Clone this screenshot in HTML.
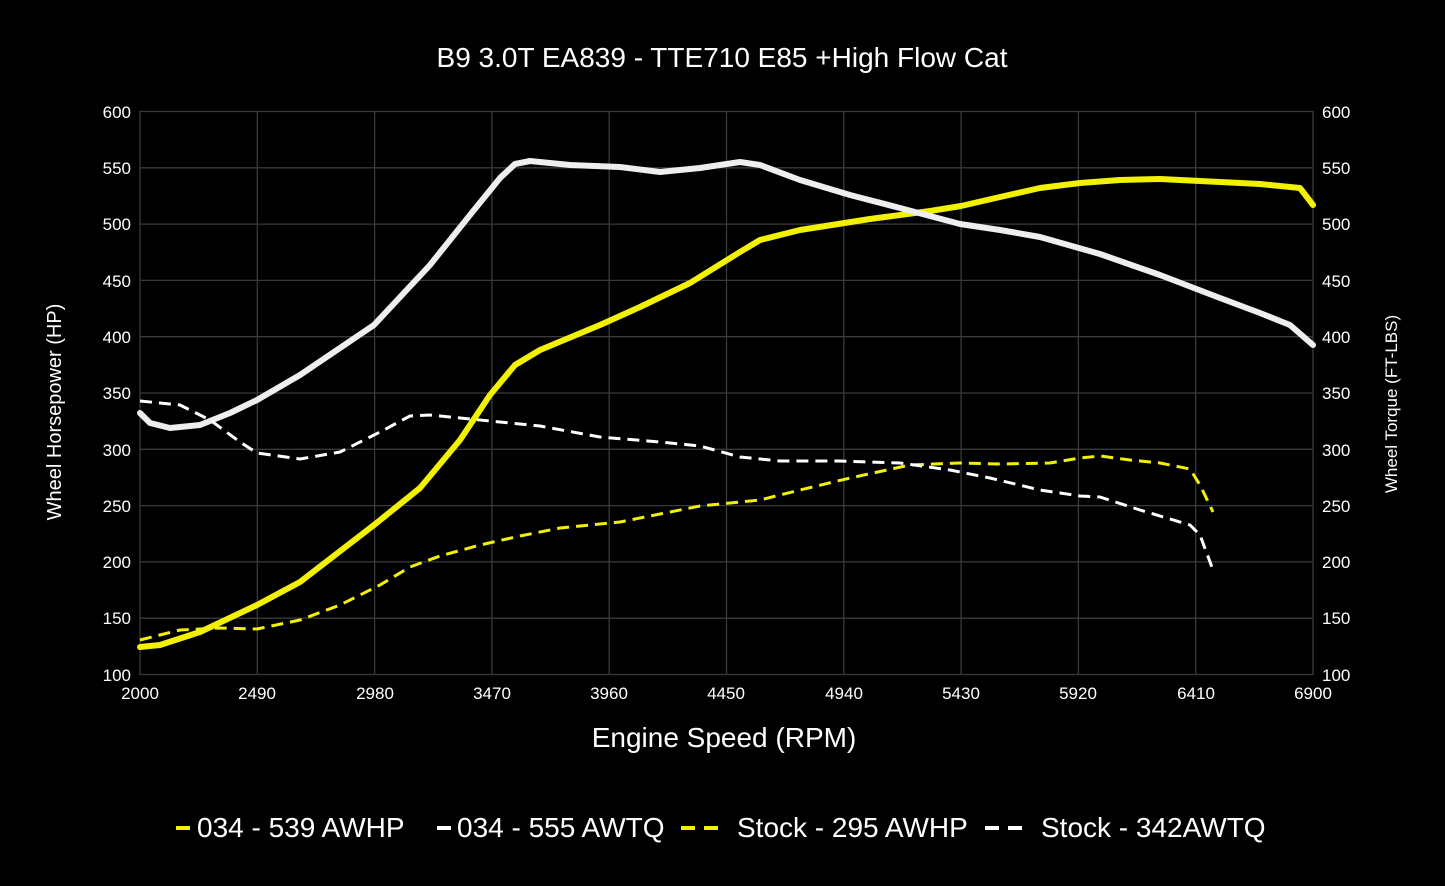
<!DOCTYPE html>
<html><head><style>
html,body{margin:0;padding:0;background:#000;}
svg{display:block;font-family:"Liberation Sans",Arial,sans-serif;}
</style></head><body>
<svg width="1445" height="886" viewBox="0 0 1445 886">
<rect width="1445" height="886" fill="#000"/>
<text x="722" y="67" fill="#fff" font-size="28" text-anchor="middle">B9 3.0T EA839 - TTE710 E85 +High Flow Cat</text>
<g stroke="#3a3a3a" stroke-width="1.3">
<line x1="140" y1="111.5" x2="1313" y2="111.5"/><line x1="140" y1="167.8" x2="1313" y2="167.8"/><line x1="140" y1="224.1" x2="1313" y2="224.1"/><line x1="140" y1="280.4" x2="1313" y2="280.4"/><line x1="140" y1="336.7" x2="1313" y2="336.7"/><line x1="140" y1="393" x2="1313" y2="393"/><line x1="140" y1="449.3" x2="1313" y2="449.3"/><line x1="140" y1="505.6" x2="1313" y2="505.6"/><line x1="140" y1="561.9" x2="1313" y2="561.9"/><line x1="140" y1="618.2" x2="1313" y2="618.2"/><line x1="140" y1="674.5" x2="1313" y2="674.5"/>
<line x1="140" y1="111" x2="140" y2="675"/><line x1="257.3" y1="111" x2="257.3" y2="675"/><line x1="374.6" y1="111" x2="374.6" y2="675"/><line x1="491.9" y1="111" x2="491.9" y2="675"/><line x1="609.2" y1="111" x2="609.2" y2="675"/><line x1="726.5" y1="111" x2="726.5" y2="675"/><line x1="843.8" y1="111" x2="843.8" y2="675"/><line x1="961.1" y1="111" x2="961.1" y2="675"/><line x1="1078.4" y1="111" x2="1078.4" y2="675"/><line x1="1195.7" y1="111" x2="1195.7" y2="675"/><line x1="1313" y1="111" x2="1313" y2="675"/>
</g>
<g fill="#fff" font-size="17" text-anchor="end">
<text x="131" y="118">600</text><text x="131" y="174">550</text><text x="131" y="230">500</text><text x="131" y="287">450</text><text x="131" y="343">400</text><text x="131" y="399">350</text><text x="131" y="456">300</text><text x="131" y="512">250</text><text x="131" y="568">200</text><text x="131" y="624">150</text><text x="131" y="681">100</text>
</g>
<g fill="#fff" font-size="17" text-anchor="start">
<text x="1322" y="118">600</text><text x="1322" y="174">550</text><text x="1322" y="230">500</text><text x="1322" y="287">450</text><text x="1322" y="343">400</text><text x="1322" y="399">350</text><text x="1322" y="456">300</text><text x="1322" y="512">250</text><text x="1322" y="568">200</text><text x="1322" y="624">150</text><text x="1322" y="681">100</text>
</g>
<g fill="#fff" font-size="17" text-anchor="middle">
<text x="140" y="699">2000</text><text x="257" y="699">2490</text><text x="375" y="699">2980</text><text x="492" y="699">3470</text><text x="609" y="699">3960</text><text x="726" y="699">4450</text><text x="844" y="699">4940</text><text x="961" y="699">5430</text><text x="1078" y="699">5920</text><text x="1196" y="699">6410</text><text x="1313" y="699">6900</text>
</g>
<text x="724" y="747" fill="#fff" font-size="28" text-anchor="middle">Engine Speed (RPM)</text>
<text transform="translate(61,412) rotate(-90)" fill="#fff" font-size="20" text-anchor="middle">Wheel Horsepower (HP)</text>
<text transform="translate(1397,404) rotate(-90)" fill="#fff" font-size="17" text-anchor="middle">Wheel Torque (FT-LBS)</text>
<g fill="none" stroke-linejoin="round" stroke-linecap="round">
<polyline stroke="#f2f200" stroke-width="6" points="140,647 160,645 200,632 257,605 300,582 374,525 420,488 460,440 490,395 515,365 540,350 600,325 640,307 690,283 740,252 760,240 800,230 870,219 930,211 961,206 1000,197 1040,188 1080,183 1120,180 1160,179 1200,181 1260,184 1300,188 1313,205"/>
<polyline stroke="#eeeeee" stroke-width="6" points="140,413 150,423 170,428 200,425 230,413 257,400 300,375 374,325 430,265 470,215 500,178 515,164 530,161 570,165 620,167 660,172 700,168 740,162 760,165 800,180 850,195 900,208 960,224 1000,230 1040,237 1100,254 1160,275 1220,298 1260,313 1290,325 1313,345"/>
<polyline stroke="#f2f200" stroke-width="3" stroke-dasharray="12,7" stroke-linecap="butt" points="140,640 180,630 220,628 257,629 300,620 340,605 380,585 410,567 440,556 480,545 520,536 560,528 620,522 660,514 700,506 760,500 800,490 850,478 910,465 960,463 1000,464 1050,463 1080,458 1100,456 1130,460 1160,463 1190,469 1200,485 1213,512"/>
<polyline stroke="#ffffff" stroke-width="3" stroke-dasharray="12,7" stroke-linecap="butt" points="140,401 180,405 210,420 240,442 257,453 300,459 340,452 380,432 410,416 430,415 470,419 540,426 600,437 660,442 700,446 740,457 780,461 840,461 900,463 950,470 990,478 1040,490 1080,496 1100,497 1140,510 1190,525 1200,535 1213,570"/>
</g>
<g font-size="28" fill="#fff">
<line x1="176" y1="828" x2="190" y2="828" stroke="#f2f200" stroke-width="4"/>
<text x="197" y="837">034 - 539 AWHP</text>
<line x1="437" y1="828" x2="451" y2="828" stroke="#fff" stroke-width="4"/>
<text x="457" y="837">034 - 555 AWTQ</text>
<line x1="681" y1="828" x2="695" y2="828" stroke="#f2f200" stroke-width="4"/>
<line x1="704" y1="828" x2="718" y2="828" stroke="#f2f200" stroke-width="4"/>
<text x="737" y="837">Stock - 295 AWHP</text>
<line x1="985" y1="828" x2="999" y2="828" stroke="#fff" stroke-width="4"/>
<line x1="1008" y1="828" x2="1022" y2="828" stroke="#fff" stroke-width="4"/>
<text x="1041" y="837">Stock - 342AWTQ</text>
</g>
</svg>
</body></html>
